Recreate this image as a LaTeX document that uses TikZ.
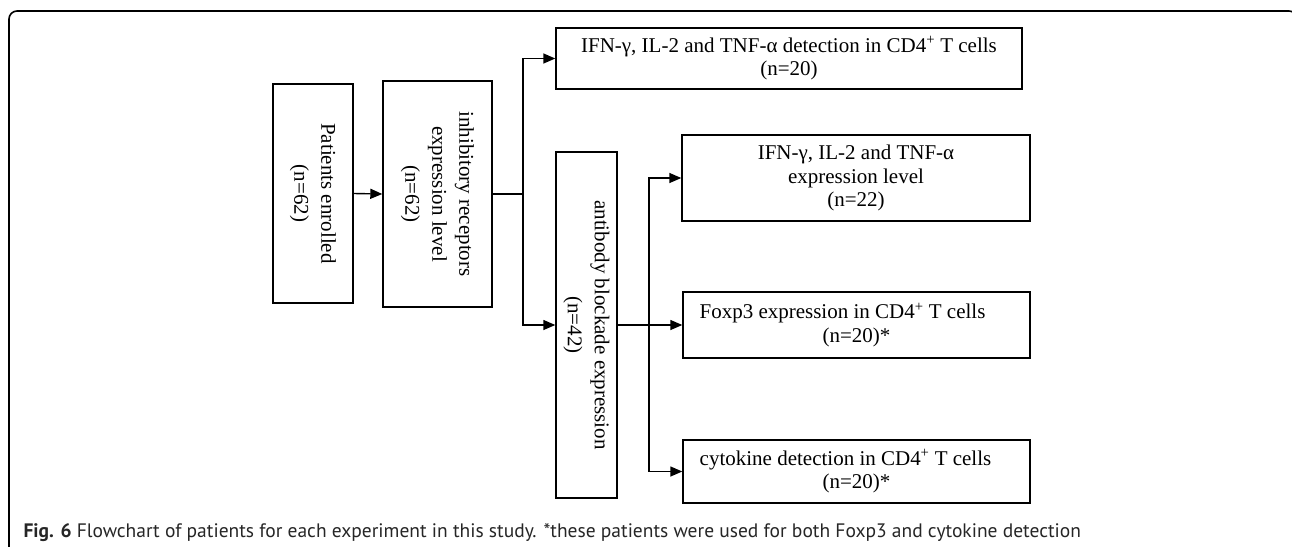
\documentclass[tikz,border=0pt]{standalone}
\usepackage{fontspec}
\setmainfont{Liberation Serif}
\newfontfamily\capfont{PT Sans}
\usetikzlibrary{arrows.meta}
\begin{document}
\begin{tikzpicture}[x=1pt,y=-1pt,
 box/.style={draw, line width=1.4pt, inner sep=0pt, align=center, font=\fontsize{21}{23.5}\selectfont},
 vbox/.style={box, rotate=-90, font=\fontsize{21}{27}\selectfont},
 conn/.style={line width=1.4pt},
 arr/.style={conn, -{Triangle[length=12pt,width=10pt]}}
]
\useasboundingbox (0,0) rectangle (1292,546);
\draw[line width=1.6pt, rounded corners=8pt] (9,550) -- (9,11) -- (1297,11) -- (1297,550);

\node[vbox, minimum width=219pt, minimum height=80pt] (pat) at (313,193.5) {Patients enrolled\\(n=62)};
\node[vbox, minimum width=226pt, minimum height=109pt] (inh) at (437.5,194) {inhibitory receptors\\expression level\\(n=62)};
\node[vbox, minimum width=346pt, minimum height=61pt] (ab) at (586.5,325) {antibody blockade expression\\(n=42)};

\node[box, minimum width=466pt, minimum height=61pt] (top) at (789,58.5) {IFN-γ, IL-2 and TNF-α detection in CD4\textsuperscript{+} T cells\\(n=20)};
\node[box, minimum width=348pt, minimum height=86pt] (ifn) at (856,178) {IFN-γ, IL-2 and TNF-α\\expression level\\(n=22)};
\node[box, minimum width=347pt, minimum height=66pt] (fox) at (856.5,325) {Foxp3 expression in CD4\textsuperscript{+} T cells\hspace*{28pt}\\(n=20)*};
\node[box, minimum width=347pt, minimum height=63pt] (cyt) at (856.5,471.5) {cytokine detection in CD4\textsuperscript{+} T cells\hspace*{22pt}\\(n=20)*};

\draw[arr] (pat.north) -- (inh.south);
\coordinate (s1) at (523,194);
\draw[conn] (inh.north) -- (s1);
\draw[arr] (s1) |- (top.west);
\draw[arr] (s1) |- (ab.south);
\draw[arr] (ab.north) -- (fox.west);
\coordinate (s2) at (649,325);
\draw[arr] (s2) |- (ifn.west);
\draw[arr] (s2) |- (cyt.west);

\node[anchor=base west, font=\capfont\fontsize{19.5}{22}\selectfont, text=black!85] (cap) at (20,537) {\textbf{Fig. 6} Flowchart of patients for each experiment in this study. *these patients were used for both Foxp3 and cytokine detection};
\end{tikzpicture}
\end{document}
